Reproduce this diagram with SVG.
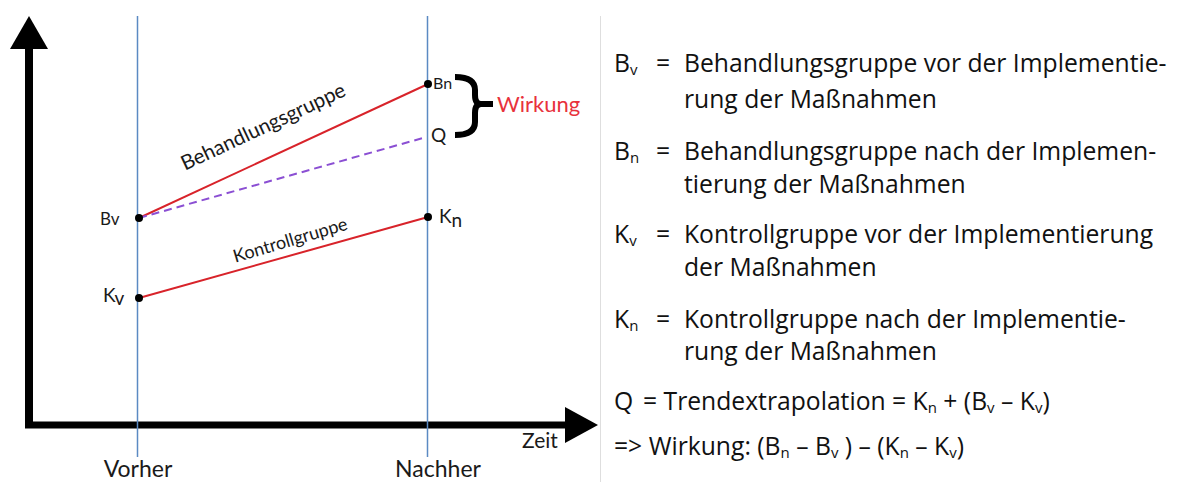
<svg xmlns="http://www.w3.org/2000/svg" width="1180" height="482" viewBox="0 0 1180 482">
<defs>
<style>
.lbl{font-family:Lato,"Open Sans","Liberation Sans",sans-serif;fill:#1a1a1a}
.rt{font-family:"Open Sans","Noto Sans","Liberation Sans",sans-serif;font-size:24.7px;fill:#111}
.sub{font-size:15px}
.red{stroke:#d8232a;stroke-width:2;fill:none}
.guide{stroke:#5b8ac3;stroke-width:1.5}
.dot{fill:#000}
</style>
</defs>
<rect width="1180" height="482" fill="#fff"/>
<line x1="600.5" y1="16" x2="600.5" y2="482" stroke="#dedede" stroke-width="1"/>
<g id="axes">
<line x1="29" y1="48" x2="29" y2="425" stroke="#000" stroke-width="8"/>
<polygon points="29,16 48,49 10,49" fill="#000"/>
<line x1="25" y1="425" x2="566" y2="425" stroke="#000" stroke-width="7"/>
<polygon points="598,425 565,407 565,443" fill="#000"/>
<text class="lbl" x="522" y="448" font-size="21">Zeit</text>
</g>
<g id="guides">
<line class="guide" x1="137.5" y1="16" x2="137.5" y2="457"/>
<line class="guide" x1="427.5" y1="16" x2="427.5" y2="457"/>
<text class="lbl" x="138" y="477" font-size="23" text-anchor="middle">Vorher</text>
<text class="lbl" x="438" y="477" font-size="23" text-anchor="middle">Nachher</text>
</g>
<g id="connectors">
<line class="red" x1="139" y1="218" x2="428" y2="84"/>
<line class="red" x1="139" y1="298" x2="428" y2="217"/>
<line x1="139" y1="218" x2="423" y2="138" stroke="#8b4fd3" stroke-width="2" stroke-dasharray="8,5"/>
</g>
<g id="node-bv">
<circle class="dot" cx="139" cy="218" r="4"/>
<text class="lbl" x="100" y="225" font-size="17">Bv</text>
</g>
<g id="node-kv">
<circle class="dot" cx="139" cy="298" r="4"/>
<text class="lbl" x="103" y="302" font-size="19">K<tspan dy="3">v</tspan></text>
</g>
<g id="node-bn">
<circle class="dot" cx="428" cy="84" r="4"/>
<text class="lbl" x="433" y="89" font-size="16">Bn</text>
</g>
<g id="node-q">
<text class="lbl" x="431" y="142" font-size="19">Q</text>
</g>
<g id="node-kn">
<circle class="dot" cx="428" cy="217" r="4"/>
<text class="lbl" x="439" y="223" font-size="19">K<tspan dy="4">n</tspan></text>
</g>
<g id="label-behandlung">
<text class="lbl" font-size="20.5" text-anchor="middle" transform="translate(266,133) rotate(-25)">Behandlungsgruppe</text>
</g>
<g id="label-kontroll">
<text class="lbl" font-size="18" text-anchor="middle" transform="translate(292,246) rotate(-16.5)">Kontrollgruppe</text>
</g>
<g id="wirkung">
<path d="M455,77 Q475,77 475,90 L475,95 Q475,104 481,104 L493,104 M481,104 Q475,104 475,113 L475,122 Q475,135 455,135" fill="none" stroke="#000" stroke-width="6"/>
<text x="497" y="112" font-size="22" fill="#e8323c" font-family="Lato,'Open Sans','Liberation Sans',sans-serif">Wirkung</text>
</g>
<g id="legend">
<text class="rt" x="614" y="72">B<tspan class="sub" dy="3">v</tspan><tspan x="656" dy="-3">=</tspan><tspan x="684">Behandlungsgruppe vor der Implementie-</tspan></text>
<text class="rt" x="684" y="108">rung der Maßnahmen</text>
<text class="rt" x="614" y="160">B<tspan class="sub" dy="3">n</tspan><tspan x="656" dy="-3">=</tspan><tspan x="684">Behandlungsgruppe nach der Implemen-</tspan></text>
<text class="rt" x="684" y="193">tierung der Maßnahmen</text>
<text class="rt" x="614" y="243">K<tspan class="sub" dy="3">v</tspan><tspan x="656" dy="-3">=</tspan><tspan x="684">Kontrollgruppe vor der Implementierung</tspan></text>
<text class="rt" x="684" y="276">der Maßnahmen</text>
<text class="rt" x="614" y="328">K<tspan class="sub" dy="3">n</tspan><tspan x="656" dy="-3">=</tspan><tspan x="684">Kontrollgruppe nach der Implementie-</tspan></text>
<text class="rt" x="684" y="360">rung der Maßnahmen</text>
<text class="rt" x="614" y="410">Q<tspan x="643">= Trendextrapolation = K</tspan><tspan class="sub" dy="3">n</tspan><tspan dy="-3"> + (B</tspan><tspan class="sub" dy="3">v</tspan><tspan dy="-3"> – K</tspan><tspan class="sub" dy="3">v</tspan><tspan dy="-3">)</tspan></text>
<text class="rt" x="614" y="455">=&gt; Wirkung: (B<tspan class="sub" dy="3">n</tspan><tspan dy="-3"> – B</tspan><tspan class="sub" dy="3">v</tspan><tspan dy="-3"> ) – (K</tspan><tspan class="sub" dy="3">n</tspan><tspan dy="-3"> – K</tspan><tspan class="sub" dy="3">v</tspan><tspan dy="-3">)</tspan></text>
</g>
</svg>
